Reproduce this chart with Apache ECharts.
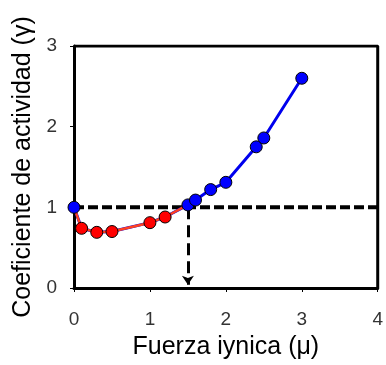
<!DOCTYPE html>
<html>
<head>
<meta charset="utf-8">
<script src="https://cdn.jsdelivr.net/npm/echarts@6/dist/echarts.min.js"></script>
<style>
  html, body { margin: 0; padding: 0; background: #fff; }
  #chart { width: 386px; height: 365px; }
</style>
</head>
<body>
<div id="chart"></div>
<script>
// fuerza ionica (x) y coeficiente de actividad (y)
const allX = [0, 0.1, 0.3, 0.5, 1.0, 1.2, 1.5, 1.6, 1.8, 2.0, 2.4, 2.5, 3.0]
const allY = [1.0, 0.74, 0.69, 0.70, 0.81, 0.88, 1.03, 1.09, 1.22, 1.31, 1.75, 1.86, 2.6]
const redIdx = [1, 2, 3, 4, 5]            // puntos rojos
const blueIdx = [0, 6, 7, 8, 9, 10, 11, 12] // puntos azules
const redLineIdx = [0, 1, 2, 3, 4, 5, 6]
const refLevel = 1
const arrowX = 1.5
const xTicks = [0, 1, 2, 3, 4]
const yTicks = [0, 1, 2, 3]

const chart = echarts.init(document.getElementById('chart'))

const pick = (idx) => idx.map((i) => [allX[i], allY[i]])
const font = 'Liberation Sans, Arial, sans-serif'

const option = {
  animation: false,
  grid: { left: 74, right: 6, top: 46, bottom: 74 },
  xAxis: {
    type: 'value',
    min: xTicks[0],
    max: xTicks[xTicks.length - 1],
    interval: 1,
    name: 'Fuerza iynica (μ)',
    nameLocation: 'middle',
    nameGap: 47,
    nameTextStyle: { fontSize: 25, color: '#000', fontFamily: font },
    axisLine: { lineStyle: { color: '#000', width: 3 } },
    axisTick: { show: true, length: 4, lineStyle: { color: '#000', width: 1 } },
    axisLabel: { fontSize: 19, color: '#333', fontFamily: font, margin: 22 },
    splitLine: { show: false }
  },
  yAxis: {
    type: 'value',
    min: yTicks[0],
    max: yTicks[yTicks.length - 1],
    interval: 1,
    name: 'Coeficiente de actividad (γ)',
    nameLocation: 'middle',
    nameGap: 37,
    nameTextStyle: { fontSize: 25, color: '#000', fontFamily: font },
    axisLine: { lineStyle: { color: '#000', width: 3 } },
    axisTick: { show: true, length: 4, lineStyle: { color: '#000', width: 1 } },
    axisLabel: { fontSize: 19, color: '#333', fontFamily: font, margin: 17 },
    splitLine: { show: false }
  },
  series: [
    {
      // marco superior y derecho
      type: 'line',
      data: [[0, 3], [4, 3], [4, 0]],
      symbol: 'none',
      lineStyle: { color: '#000', width: 3 },
      z: 1,
      silent: true
    },
    {
      type: 'line',
      data: [[0, refLevel], [4, refLevel]],
      symbol: 'none',
      lineStyle: { color: '#000', width: 4, type: [10, 4] },
      z: 2,
      silent: true,
      markLine: {
        silent: true,
        symbol: ['none', 'arrow'],
        symbolSize: [9, 9],
        label: { show: false },
        lineStyle: { color: '#000', width: 3, type: [12, 6] },
        data: [[{ coord: [arrowX, refLevel] }, { coord: [arrowX, 0.04] }]]
      }
    },
    {
      // linea azul por todos los puntos
      type: 'line',
      data: pick(allX.map((_, i) => i)),
      symbol: 'none',
      lineStyle: { color: '#0000ee', width: 3 },
      z: 3
    },
    {
      type: 'line',
      data: pick(redLineIdx),
      symbol: 'none',
      lineStyle: { color: '#ff4020', width: 2.5 },
      z: 4
    },
    {
      type: 'scatter',
      data: pick(blueIdx),
      symbol: 'circle',
      symbolSize: 12,
      itemStyle: { color: '#0000ff', borderColor: '#000', borderWidth: 1, opacity: 1 },
      z: 5
    },
    {
      type: 'scatter',
      data: pick(redIdx),
      symbol: 'circle',
      symbolSize: 12,
      itemStyle: { color: '#ff0000', borderColor: '#000', borderWidth: 1, opacity: 1 },
      z: 5
    }
  ]
}

chart.setOption(option)
</script>
</body>
</html>
